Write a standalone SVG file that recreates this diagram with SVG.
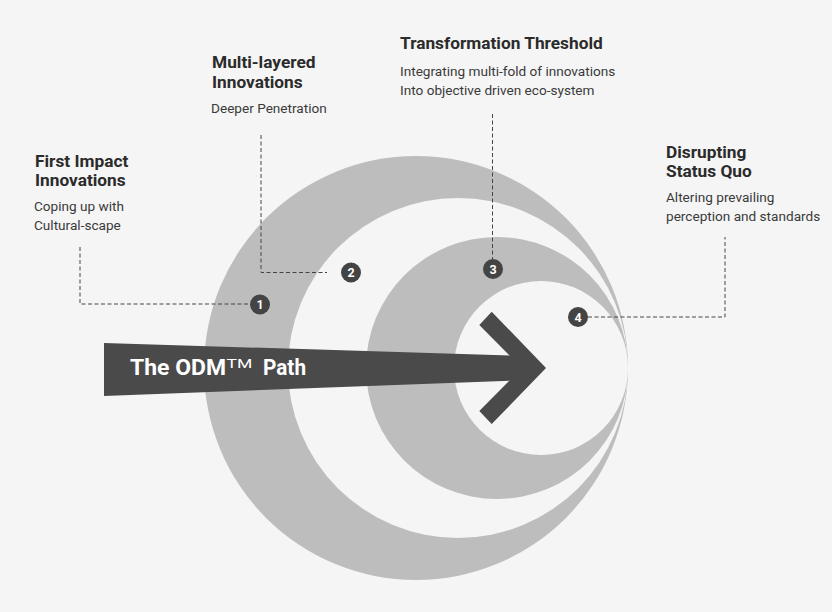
<svg xmlns="http://www.w3.org/2000/svg" width="832" height="612" viewBox="0 0 832 612">
<defs>
<style>
.title{font-family:Roboto,"Liberation Sans",sans-serif;font-weight:bold;font-size:17.3px;fill:#2b2b2b}
.sub{font-family:Roboto,"Liberation Sans",sans-serif;font-size:13.6px;fill:#3a3a3a}
.ring{fill:#bdbdbd}
.hole{fill:#f5f5f5}
.badge circle{fill:#444}
.badge text{font-family:Roboto,"Liberation Sans",sans-serif;font-weight:bold;font-size:12.5px;fill:#fff;text-anchor:middle}
.conn{fill:none;stroke:#444;stroke-width:1;stroke-dasharray:4 2.5}
.odm{font-family:Roboto,"Liberation Sans",sans-serif;fill:#fff}
</style>
</defs>
<rect width="832" height="612" fill="#f5f5f5"/>
<g id="rings">
<circle class="ring" cx="416" cy="368" r="212"/>
<circle class="hole" cx="458" cy="368" r="170"/>
<circle class="ring" cx="497" cy="368" r="131"/>
<circle class="hole" cx="541" cy="368" r="87"/>
</g>
<g id="path-arrow">
<polygon fill="#4a4a4a" points="104,343 528,356 528,380 104,396"/>
<polygon fill="#4a4a4a" points="491.7,311.7 546,368 491.7,424 479.3,411 522,368 479.3,325"/>
<text class="odm" x="130" y="375" font-weight="bold" font-size="22.5" textLength="96" lengthAdjust="spacingAndGlyphs">The ODM</text>
<text class="odm" transform="translate(226.5,368.3) scale(1.35,1)" font-size="13">TM</text>
<text class="odm" x="263" y="375" font-weight="bold" font-size="22.5" textLength="43" lengthAdjust="spacingAndGlyphs">Path</text>
</g>
<g id="connectors">
<polyline class="conn" points="80,247 80,304 249,304"/>
<polyline class="conn" points="261,135 261,272.5 327,272.5"/>
<polyline class="conn" points="492.5,114 492.5,259"/>
<polyline class="conn" points="588,317 725,317 725,237"/>
</g>
<g id="node1">
<text class="title" x="35" y="167">First Impact</text>
<text class="title" x="35" y="186">Innovations</text>
<text class="sub" x="34" y="211">Coping up with</text>
<text class="sub" x="34" y="230">Cultural-scape</text>
<g class="badge"><circle cx="260" cy="304.5" r="10"/><text x="260" y="309">1</text></g>
</g>
<g id="node2">
<text class="title" x="212" y="68">Multi-layered</text>
<text class="title" x="212" y="87.5">Innovations</text>
<text class="sub" x="211" y="113">Deeper Penetration</text>
<g class="badge"><circle cx="351" cy="272.5" r="10"/><text x="351" y="277">2</text></g>
</g>
<g id="node3">
<text class="title" x="400" y="48.5">Transformation Threshold</text>
<text class="sub" x="400" y="75.5">Integrating multi-fold of innovations</text>
<text class="sub" x="400" y="95">Into objective driven eco-system</text>
<g class="badge"><circle cx="493" cy="269" r="10"/><text x="493" y="273.5">3</text></g>
</g>
<g id="node4">
<text class="title" x="666" y="158">Disrupting</text>
<text class="title" x="666" y="177">Status Quo</text>
<text class="sub" x="666" y="202">Altering prevailing</text>
<text class="sub" x="666" y="221">perception and standards</text>
<g class="badge"><circle cx="578" cy="317" r="10"/><text x="578" y="321.5">4</text></g>
</g>
</svg>
